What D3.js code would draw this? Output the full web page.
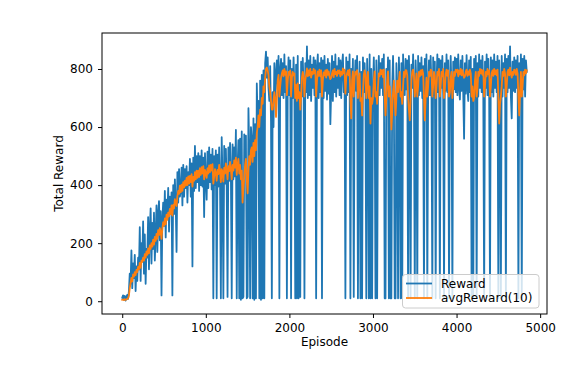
<!DOCTYPE html>
<html><head><meta charset="utf-8">
<script src="https://cdn.jsdelivr.net/npm/d3@7"></script>
<style>html,body{margin:0;padding:0;background:#fff;} svg{display:block;font-family:"DejaVu Sans",sans-serif;}</style>
</head><body><svg id="c" width="583" height="367"></svg>
<script>
const episodeStep = 10;
const reward = [
12,20,5,18,2,15,22,8,35,95,
60,175,45,130,80,160,35,120,70,150,
110,255,70,200,140,275,95,230,60,180,
150,290,110,250,320,130,270,180,305,140,
230,330,170,300,345,210,310,20,280,340,
260,380,220,350,290,390,240,360,300,375,
20,400,300,420,330,170,445,340,455,360,
380,460,330,470,360,455,390,465,340,445,
400,490,360,475,120,495,380,535,390,500,
410,510,380,500,400,520,395,495,290,510,
420,350,515,390,530,410,505,385,525,10,
500,400,520,10,505,395,530,410,10,565,
420,10,535,405,525,390,15,530,415,545,
440,10,540,420,530,430,590,10,460,555,
10,560,5,585,10,15,575,480,570,10,
15,665,520,10,600,560,10,630,5,610,
10,750,620,690,10,760,5,780,10,795,
10,820,860,770,840,735,690,810,620,10,
720,600,820,700,780,830,730,845,10,800,
835,710,820,700,850,720,810,10,745,840,
710,830,10,800,700,840,725,10,815,10,
845,10,745,15,825,705,838,730,10,820,
720,878,700,830,710,845,690,815,735,840,
710,830,10,805,850,700,820,720,838,10,
830,700,845,725,815,695,835,715,820,610,
725,845,690,825,720,850,705,810,735,838,
710,830,700,815,850,720,795,10,840,710,
825,720,850,10,800,700,835,15,740,830,
725,845,10,710,825,10,790,10,840,720,
820,710,10,835,735,10,850,10,800,10,
725,840,705,10,830,10,740,845,710,820,
735,835,710,850,10,10,800,720,840,10,
830,10,10,735,845,710,10,10,820,740,
10,840,720,10,820,10,850,735,710,835,
730,830,10,845,710,10,815,735,850,720,
10,830,740,10,845,710,820,725,840,700,
810,10,835,720,850,10,740,830,710,845,
730,10,840,710,825,10,750,850,720,835,
10,830,735,845,710,10,820,725,850,720,
830,10,740,845,710,10,825,730,840,720,
835,710,850,735,695,830,725,845,715,560,
820,715,848,735,690,830,720,842,10,800,
10,835,725,845,10,820,705,850,735,830,
720,845,705,10,825,735,850,710,835,725,
10,840,720,830,705,850,735,825,720,845,
10,830,730,10,845,705,820,735,850,10,
835,720,845,735,878,705,630,825,725,840,
720,830,735,845,10,820,705,850,10,835,
730,845,705,830,790
];
const avgReward = [
5,6,4,7,5,6,8,10,20,45,
62,80,68,92,85,100,90,108,100,118,
110,132,115,140,135,150,140,162,150,172,
160,182,165,192,180,200,188,212,195,222,
208,232,215,245,228,252,238,215,250,272,
260,285,265,298,280,305,292,318,300,330,
295,332,320,352,335,328,362,380,370,398,
375,402,380,410,392,415,398,425,400,430,
405,432,410,438,395,428,415,445,420,450,
425,450,428,458,435,462,440,465,420,452,
440,425,458,440,468,445,470,450,472,405,
430,455,440,415,452,438,470,448,410,455,
445,412,460,440,475,450,420,465,448,480,
455,420,470,450,485,460,495,435,470,490,
440,470,420,450,340,390,430,470,490,420,
372,450,500,470,520,530,480,545,500,555,
520,580,600,640,600,660,640,700,680,740,
720,770,800,805,795,780,740,720,690,660,
660,690,720,700,635,700,760,780,705,740,
770,785,795,775,800,780,792,710,760,790,
780,795,705,770,790,778,785,700,745,690,
750,700,720,660,700,770,790,778,705,760,
780,802,775,795,778,800,770,790,782,800,
785,795,705,760,792,776,798,775,795,705,
760,788,778,795,770,798,780,792,775,765,
770,785,795,772,800,782,790,776,795,785,
795,775,790,780,802,785,798,715,770,785,
795,778,798,700,630,760,792,705,770,790,
782,796,700,760,785,690,700,640,720,780,
795,778,700,760,790,700,740,612,700,680,
700,760,792,705,720,680,740,785,775,798,
782,796,772,798,710,640,700,760,792,705,
740,700,592,650,720,760,705,640,700,760,
720,760,790,705,720,680,740,790,772,796,
795,778,705,660,623,690,760,790,798,775,
705,740,785,705,740,790,775,795,780,798,
785,705,623,700,770,705,740,790,775,798,
795,705,740,790,776,700,740,790,778,800,
705,740,790,775,800,700,730,782,798,776,
795,705,720,770,790,700,740,790,776,798,
790,798,775,795,782,800,778,796,780,770,
775,790,798,776,792,780,798,785,705,740,
690,700,760,790,705,730,790,776,800,785,
798,780,795,705,740,790,775,800,782,795,
705,740,785,795,776,800,782,795,778,798,
700,612,680,705,740,790,776,800,785,705,
740,790,798,778,805,785,770,790,780,798,
795,780,800,785,705,640,720,790,705,740,
790,778,798,785,795
];
const xTicks = [0,1000,2000,3000,4000,5000];
const yTicks = [0,200,400,600,800];
const seriesNames = ["Reward","avgReward(10)"];
const seriesColors = ["#1f77b4","#ff7f0e"];
const xLabel = "Episode";
const yLabel = "Total Reward";

const svg = d3.select("#c");
const L = 102, R = 547, T = 33, B = 314;
const x = d3.scaleLinear().domain([-242, 5082]).range([L, R]);
const y = d3.scaleLinear().domain([-44, 924]).range([B, T]);
const fs = 12;

svg.append("defs").append("clipPath").attr("id","clip")
  .append("rect").attr("x",L).attr("y",T).attr("width",R-L).attr("height",B-T);

const line = d3.line().x((d,i)=>x(i*episodeStep)).y(d=>y(d));
const g = svg.append("g").attr("clip-path","url(#clip)");
[reward, avgReward].forEach((s,k)=>{
  g.append("path").datum(s).attr("d",line).attr("fill","none")
   .attr("stroke",seriesColors[k]).attr("stroke-width",1.8)
   .attr("stroke-linejoin","round").attr("stroke-linecap","square");
});

const ax = svg.append("g").attr("transform",`translate(0,${B})`)
  .call(d3.axisBottom(x).tickValues(xTicks).tickFormat(d3.format("d")).tickSize(4).tickPadding(5).tickSizeOuter(0));
const ay = svg.append("g").attr("transform",`translate(${L},0)`)
  .call(d3.axisLeft(y).tickValues(yTicks).tickFormat(d3.format("d")).tickSize(4).tickPadding(5).tickSizeOuter(0));
[ax,ay].forEach(a=>{
  a.select(".domain").remove();
  a.selectAll("line").attr("stroke","#000").attr("stroke-width",1);
  a.selectAll("text").attr("font-family","DejaVu Sans").attr("font-size",fs).attr("fill","#000");
});

svg.append("rect").attr("x",L).attr("y",T).attr("width",R-L).attr("height",B-T)
  .attr("fill","none").attr("stroke","#000").attr("stroke-width",1);

svg.append("text").attr("x",(L+R)/2).attr("y",346).attr("text-anchor","middle")
  .attr("font-size",fs).attr("fill","#000").text(xLabel);
svg.append("text").attr("transform",`translate(62.5,${(T+B)/2}) rotate(-90)`)
  .attr("text-anchor","middle").attr("font-size",fs).attr("fill","#000").text(yLabel);

const lg = svg.append("g");
lg.append("rect").attr("x",402.5).attr("y",274.5).attr("width",136.5).attr("height",33.5).attr("rx",3)
  .attr("fill","#fff").attr("fill-opacity",0.8).attr("stroke","#cccccc").attr("stroke-width",1);
seriesNames.forEach((n,k)=>{
  const yy = 283.5 + k*14.5;
  lg.append("line").attr("x1",406).attr("x2",432).attr("y1",yy).attr("y2",yy)
    .attr("stroke",seriesColors[k]).attr("stroke-width",1.8);
  lg.append("text").attr("x",441).attr("y",yy).attr("dy","0.35em").attr("font-size",fs)
    .attr("fill","#000").text(n);
});
</script>
</body></html>
